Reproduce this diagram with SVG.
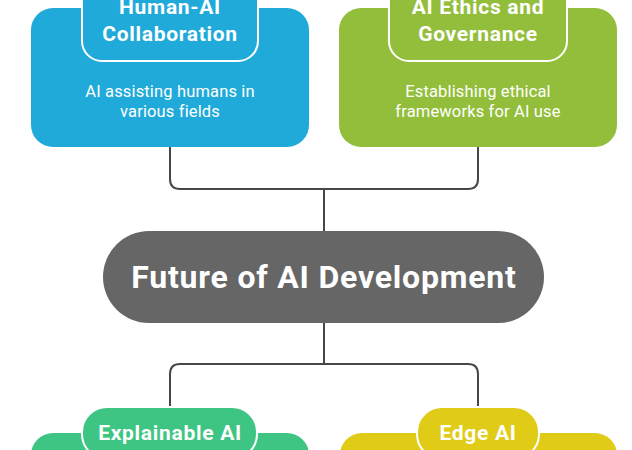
<svg xmlns="http://www.w3.org/2000/svg" width="632" height="450" viewBox="0 0 632 450">
<style>
.title{font-family:Roboto,"Liberation Sans",sans-serif;font-weight:700;font-size:21px;letter-spacing:0.7px;fill:#fff;text-anchor:middle}
.desc{font-family:Roboto,"Liberation Sans",sans-serif;font-size:16.5px;letter-spacing:0.15px;fill:#fff;text-anchor:middle}
.main{font-family:Roboto,"Liberation Sans",sans-serif;font-weight:700;font-size:32px;letter-spacing:0.8px;fill:#fff;text-anchor:middle}
.tab{stroke:#fff;stroke-width:2}
.conn{fill:none;stroke:#474747;stroke-width:2}
</style>
<rect width="632" height="450" fill="#fff"/>
<g id="connectors">
<path class="conn" d="M170 147 V179 Q170 189 180 189 H468 Q478 189 478 179 V147"/>
<path class="conn" d="M324 189 V231"/>
<path class="conn" d="M324 323 V364"/>
<path class="conn" d="M170 407 V374 Q170 364 180 364 H468 Q478 364 478 374 V407"/>
</g>
<g id="human-ai">
<rect x="31" y="8" width="278" height="139" rx="22" fill="#1FAAD9"/>
<rect class="tab" x="82" y="-23" width="176" height="84" rx="20" fill="#1FAAD9"/>
<text class="title" x="170" y="13.5">Human-AI</text>
<text class="title" x="170" y="40.5">Collaboration</text>
<text class="desc" x="170" y="97">AI assisting humans in</text>
<text class="desc" x="170" y="117">various fields</text>
</g>
<g id="ethics">
<rect x="339" y="8" width="278" height="139" rx="22" fill="#93BE3B"/>
<rect class="tab" x="389" y="-23" width="178" height="84" rx="20" fill="#93BE3B"/>
<text class="title" x="478" y="13.5">AI Ethics and</text>
<text class="title" x="478" y="40.5">Governance</text>
<text class="desc" x="478" y="97">Establishing ethical</text>
<text class="desc" x="478" y="117">frameworks for AI use</text>
</g>
<g id="future">
<rect x="103" y="231" width="441" height="92" rx="46" fill="#666666"/>
<text class="main" x="324" y="288">Future of AI Development</text>
</g>
<g id="explainable">
<rect x="31" y="433" width="278" height="139" rx="22" fill="#3EC583"/>
<rect class="tab" x="82" y="407" width="175" height="52" rx="25" fill="#3EC583"/>
<text class="title" x="170" y="439.5">Explainable AI</text>
</g>
<g id="edge">
<rect x="340" y="433" width="277" height="139" rx="22" fill="#E0CC17"/>
<rect class="tab" x="417" y="407" width="122" height="52" rx="25" fill="#E0CC17"/>
<text class="title" x="478" y="439.5">Edge AI</text>
</g>
</svg>
